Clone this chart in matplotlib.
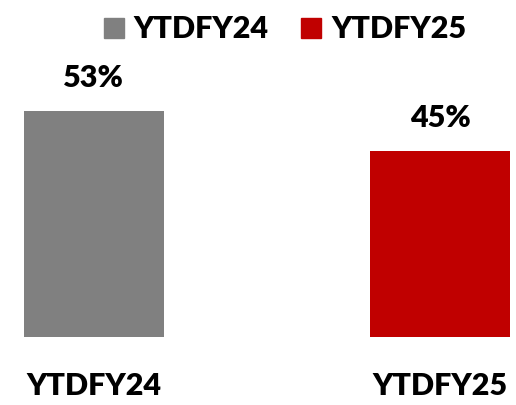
import matplotlib.pyplot as plt
from matplotlib.lines import Line2D

plt.rcParams['font.family'] = ['Lato', 'DejaVu Sans']
plt.rcParams['font.weight'] = 'heavy'

periods = ['YTDFY24', 'YTDFY25']
share = [53, 45]
colors = ['#808080', '#C00000']

fig = plt.figure(figsize=(5.16, 4.05), dpi=100)
ax = fig.add_axes([0, 0.168, 1, 0.684])

x = range(len(periods))
bars = ax.bar(x, share, width=0.404, color=colors, bottom=0)

for rect, v in zip(bars, share):
    ax.annotate(f'{v}%', (rect.get_x() + rect.get_width() / 2, v),
                xytext=(0, 14), textcoords='offset points',
                ha='center', va='bottom', fontsize=22, fontweight='heavy')

ax.set_xlim(-0.271, 1.218)
ax.set_ylim(8, 63.2)
ax.set_xticks(list(x))
ax.set_xticklabels(periods, fontsize=22, fontweight='heavy')
ax.tick_params(axis='x', length=0, pad=25)
ax.set_yticks([])
for s in ax.spines.values():
    s.set_visible(False)

handles = [Line2D([], [], linestyle='none', marker='s', markersize=14.4,
                  markerfacecolor=c, markeredgecolor=c) for c in colors]
fig.legend(handles, periods, loc='upper center', bbox_to_anchor=(0.55, 1.0),
           ncol=2, frameon=False, fontsize=22, handlelength=0.8,
           handletextpad=0.25, columnspacing=1.0, borderaxespad=0.1)

fig.savefig('out.png', dpi=100)
